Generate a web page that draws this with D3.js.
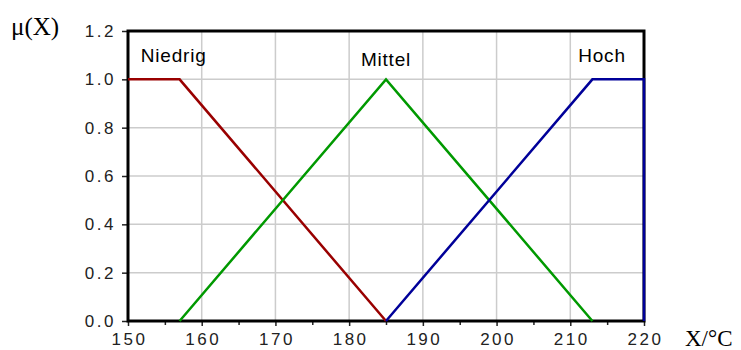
<!DOCTYPE html>
<html>
<head>
<meta charset="utf-8">
<script src="https://cdn.jsdelivr.net/npm/d3@7"></script>
<style>
  html, body { margin: 0; padding: 0; background: #fff; }
  svg { display: block; }
</style>
</head>
<body>
<svg id="chart" width="741" height="350"></svg>
<script>
// Membership functions of the linguistic terms for temperature X in °C
const niedrigX = [150, 157, 185];
const niedrigMu = [1, 1, 0];
const mittelX = [157, 185, 213];
const mittelMu = [0, 1, 0];
const hochX = [185, 213, 220, 220];
const hochMu = [0, 1, 1, 0];

const termNames = ["Niedrig", "Mittel", "Hoch"];
const termLabelX = [156.2, 185, 214.3];
const termColors = ["#990000", "#009900", "#000099"];

const xTicks = [150, 160, 170, 180, 190, 200, 210, 220];
const xMinorTicks = [155, 165, 175, 185, 195, 205, 215];
const yTicks = [0.0, 0.2, 0.4, 0.6, 0.8, 1.0, 1.2];

const svg = d3.select("#chart");
const plotLeft = 128, plotRight = 644, plotTop = 31, plotBottom = 321;

const x = d3.scaleLinear().domain([150, 220]).range([plotLeft, plotRight]);
const y = d3.scaleLinear().domain([0, 1.2]).range([plotBottom, plotTop]);

// grid
const grid = svg.append("g").attr("stroke", "#cccccc").attr("stroke-width", 1.5);
grid.selectAll("line.v").data(xTicks.slice(1, -1)).join("line")
  .attr("class", "v")
  .attr("x1", d => x(d)).attr("x2", d => x(d))
  .attr("y1", plotTop).attr("y2", plotBottom);
grid.selectAll("line.h").data(yTicks.slice(1, -1)).join("line")
  .attr("class", "h")
  .attr("x1", plotLeft).attr("x2", plotRight)
  .attr("y1", d => y(d)).attr("y2", d => y(d));

// axes
const tickFont = g => g.selectAll("text")
  .attr("font-family", "Liberation Sans, Arial, sans-serif")
  .attr("font-size", 17)
  .attr("fill", "#222")
  .attr("letter-spacing", "2.5px");

const xAxis = svg.append("g").attr("transform", `translate(0,${plotBottom})`)
  .call(d3.axisBottom(x).tickValues(xTicks).tickFormat(d3.format("d")).tickSize(5).tickPadding(7));
xAxis.select(".domain").remove();
xAxis.selectAll("line").attr("stroke", "#222").attr("stroke-width", 1.5);
xAxis.call(tickFont);
xAxis.selectAll("text").attr("dx", "1px");

const xMinor = svg.append("g").attr("transform", `translate(0,${plotBottom})`)
  .call(d3.axisBottom(x).tickValues(xMinorTicks).tickFormat("").tickSize(4));
xMinor.select(".domain").remove();
xMinor.selectAll("line").attr("stroke", "#222").attr("stroke-width", 1.5);

const yAxis = svg.append("g").attr("transform", `translate(${plotLeft},0)`)
  .call(d3.axisLeft(y).tickValues(yTicks).tickFormat(d3.format(".1f")).tickSize(6).tickPadding(6));
yAxis.select(".domain").remove();
yAxis.selectAll("line").attr("stroke", "#222").attr("stroke-width", 1.5);
yAxis.call(tickFont);

// frame
svg.append("rect")
  .attr("x", plotLeft).attr("y", plotTop)
  .attr("width", plotRight - plotLeft).attr("height", plotBottom - plotTop)
  .attr("fill", "none").attr("stroke", "#000").attr("stroke-width", 3);

// membership curves
const line = d3.line().x(d => x(d[0])).y(d => y(d[1]));
const series = [
  d3.zip(niedrigX, niedrigMu),
  d3.zip(mittelX, mittelMu),
  d3.zip(hochX, hochMu)
];
svg.append("g").selectAll("path").data(series).join("path")
  .attr("d", line)
  .attr("fill", "none")
  .attr("stroke", (d, i) => termColors[i])
  .attr("stroke-width", 2.5)
  .attr("stroke-linejoin", "miter");

// term labels
svg.append("g").selectAll("text").data(termNames).join("text")
  .attr("x", (d, i) => x(termLabelX[i]))
  .attr("y", (d, i) => i === 1 ? 66 : 62)
  .attr("text-anchor", "middle")
  .attr("font-family", "Liberation Sans, Arial, sans-serif")
  .attr("font-size", 19)
  .attr("letter-spacing", "0.8px")
  .attr("fill", "#000")
  .text(d => d);

// axis titles
svg.append("text")
  .attr("x", 11).attr("y", 35)
  .attr("font-family", "Liberation Serif, Times New Roman, serif")
  .attr("font-size", 25)
  .attr("fill", "#000")
  .text("μ(X)");
svg.append("text")
  .attr("x", 685).attr("y", 346)
  .attr("font-family", "Liberation Serif, Times New Roman, serif")
  .attr("font-size", 23)
  .attr("fill", "#000")
  .text("X/°C");
</script>
</body>
</html>
